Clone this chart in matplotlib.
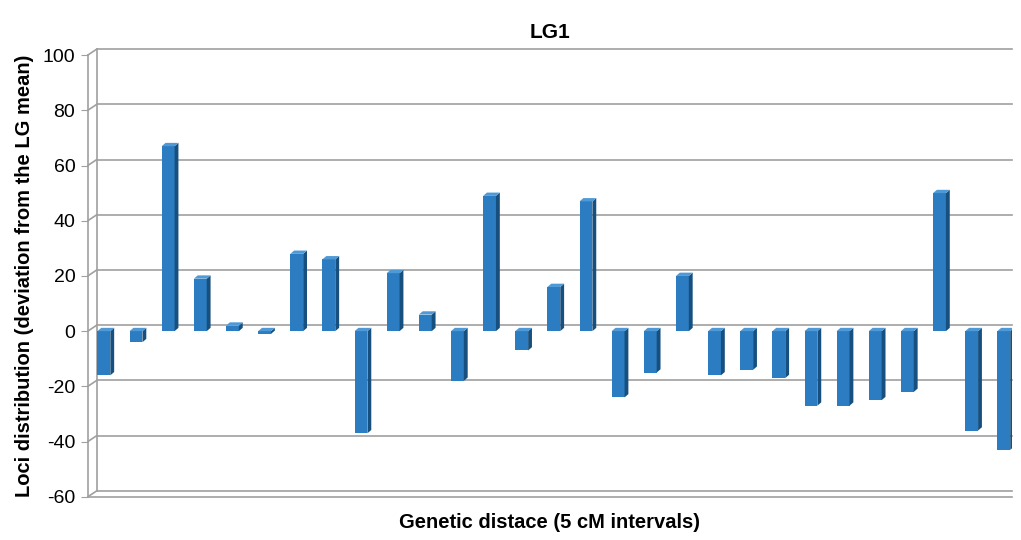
import matplotlib
matplotlib.use("Agg")
import matplotlib.pyplot as plt
import matplotlib.transforms as mtransforms
import numpy as np

plt.rcParams['font.family'] = ['Liberation Sans', 'DejaVu Sans']
plt.rcParams['axes.unicode_minus'] = False

values = [-16, -4, 67, 19, 2, -1, 28, 26, -37, 21, 6, -18, 49, -7, 16, 47,
          -24, -15, 20, -16, -14, -17, -27, -27, -25, -22, 50, -36, -43]
yticks = [-60, -40, -20, 0, 20, 40, 60, 80, 100]
title = "LG1"
xlabel = "Genetic distace (5 cM intervals)"
ylabel = "Loci distribution (deviation from the LG mean)"

front_c = '#2b7cc0'
side_c = '#17507f'
top_c = '#4f9ad6'
grid_c = '#a0a0a0'

fig = plt.figure(figsize=(10.21, 5.40), dpi=100)
ax = fig.add_axes([0.086, 0.080, 0.905, 0.818])
ax.set_xlim(-0.5, 28.25)
ax.set_ylim(-60, 100)

# 3D wall offset
off = mtransforms.ScaledTranslation(0.09, 0.06, fig.dpi_scale_trans)
front = mtransforms.blended_transform_factory(ax.transAxes, ax.transData)
gtrans = front + off

for t in yticks:
    ax.plot([0, 0.99], [t, t], color=grid_c, lw=1.2, transform=gtrans, clip_on=False, zorder=1)
    ax.annotate('', xy=(0, t), xycoords=gtrans, xytext=(0, t), textcoords=front,
                arrowprops=dict(arrowstyle='-', color=grid_c, lw=1.2, shrinkA=0, shrinkB=0))
# back wall left vertical
ax.plot([0, 0], [-60, 100], color=grid_c, lw=1.2, transform=gtrans, clip_on=False, zorder=1)
# floor front line
ax.plot([0, 1.0], [-60, -60], color=grid_c, lw=1.2, transform=front, clip_on=False, zorder=1)

# bars
w = 0.40
dx = 0.12
dy = 1.2
x = np.arange(len(values))
ax.bar(x, values, width=w, color=front_c, edgecolor='none', zorder=3)
for xi, v in zip(x, values):
    r = xi + w / 2
    l = xi - w / 2
    top = max(v, 0)
    bot = min(v, 0)
    ax.fill([r, r + dx, r + dx, r], [bot, bot + dy, top + dy, top], color=side_c, zorder=3, lw=0)
    ax.fill([l, l + dx, r + dx, r], [top, top + dy, top + dy, top], color=top_c, zorder=3, lw=0)

for s in ['top', 'right', 'bottom']:
    ax.spines[s].set_visible(False)
ax.spines['left'].set_color(grid_c)
ax.spines['left'].set_linewidth(1.2)
ax.set_yticks(yticks)
ax.set_xticks([])
ax.tick_params(axis='y', length=5, color=grid_c, labelsize=14, pad=4)
ax.set_title(title, fontsize=15, fontweight='bold', pad=12)
ax.set_xlabel(xlabel, fontsize=14.5, fontweight='bold', labelpad=12)
ax.set_ylabel(ylabel, fontsize=14.5, fontweight='bold', labelpad=6)

fig.savefig('out.png', dpi=100)
